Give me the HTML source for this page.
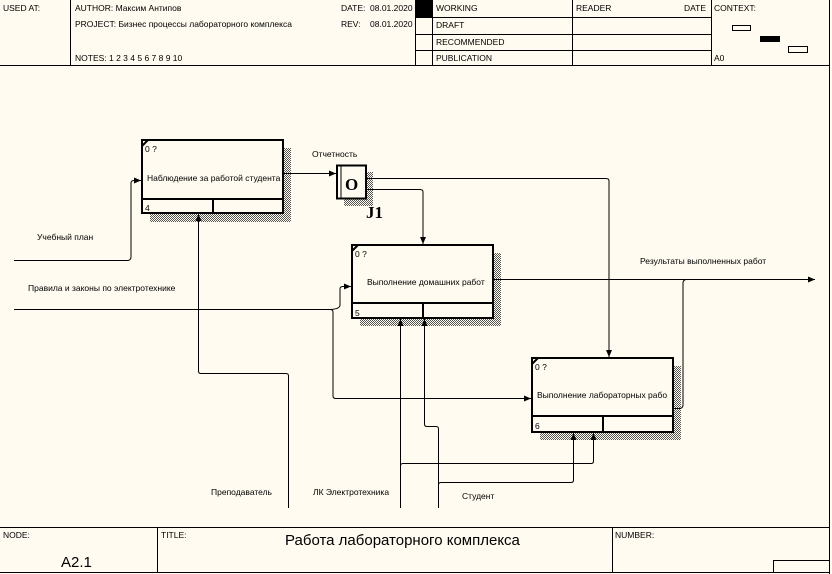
<!DOCTYPE html>
<html><head><meta charset="utf-8"><style>
html,body{margin:0;padding:0;background:#fffbf0;}
svg{display:block;}
text{font-family:"Liberation Sans",sans-serif;font-size:8.5px;fill:#000;}
</style></head><body>
<svg width="832" height="574" viewBox="0 0 832 574" xmlns="http://www.w3.org/2000/svg">
<defs>
<pattern id="h" width="2" height="2" patternUnits="userSpaceOnUse"><rect width="2" height="2" fill="#fffbf0"/><rect width="1" height="1" fill="#555"/><rect x="1" y="1" width="1" height="1" fill="#555"/></pattern>
<marker id="a" markerWidth="8" markerHeight="8" refX="7" refY="4" orient="auto" markerUnits="userSpaceOnUse"><path d="M0,1 L7,4 L0,7 z" fill="#000"/></marker>
</defs>
<rect width="832" height="574" fill="#fffbf0"/>
<g stroke="#000" stroke-width="1" fill="none">
<line x1="0" y1="65.5" x2="830" y2="65.5"/>
<line x1="70.5" y1="0" x2="70.5" y2="65"/>
<line x1="415.5" y1="0" x2="415.5" y2="65"/>
<line x1="432.5" y1="0" x2="432.5" y2="65"/>
<line x1="572.5" y1="0" x2="572.5" y2="65"/>
<line x1="711.5" y1="0" x2="711.5" y2="65"/>
<line x1="829.5" y1="0" x2="829.5" y2="574"/>
<line x1="415" y1="17.5" x2="711" y2="17.5"/>
<line x1="415" y1="34.5" x2="711" y2="34.5"/>
<line x1="415" y1="50.5" x2="711" y2="50.5"/>
<rect x="732.5" y="25.5" width="18" height="5"/>
<rect x="788.5" y="46.5" width="19" height="6"/>
</g>
<rect x="415" y="0" width="17" height="17" fill="#000"/>
<rect x="760" y="36" width="20" height="6" fill="#000"/>
<text x="3" y="11">USED AT:</text>
<text x="75" y="11">AUTHOR:  Максим Антипов</text>
<text x="75" y="27">PROJECT:  Бизнес процессы лабораторного комплекса</text>
<text x="75" y="61">NOTES:  1  2  3  4  5  6  7  8  9  10</text>
<text x="341" y="11">DATE:</text><text x="370" y="11">08.01.2020</text>
<text x="341" y="27">REV:</text><text x="370" y="27">08.01.2020</text>
<text x="436" y="11">WORKING</text>
<text x="436" y="28">DRAFT</text>
<text x="436" y="45">RECOMMENDED</text>
<text x="436" y="61">PUBLICATION</text>
<text x="576" y="11">READER</text>
<text x="684" y="11">DATE</text>
<text x="714" y="11">CONTEXT:</text>
<text x="714" y="61">A0</text>
<g stroke="#000" fill="none">
<line x1="0" y1="527.5" x2="830" y2="527.5"/>
<line x1="0" y1="572.5" x2="830" y2="572.5"/>
<line x1="157.5" y1="527" x2="157.5" y2="573"/>
<line x1="612.5" y1="527" x2="612.5" y2="573"/>
<polyline points="773.5,573 773.5,560.5 830,560.5"/>
</g>
<text x="3" y="538">NODE:</text>
<text x="161" y="538">TITLE:</text>
<text x="615" y="538">NUMBER:</text>
<text x="61" y="567" style="font-size:15px">A2.1</text>
<text x="285" y="545" style="font-size:15px">Работа лабораторного комплекса</text>
<rect x="150" y="148" width="141" height="74" fill="url(#h)"/>
<rect x="360" y="253" width="141" height="73" fill="url(#h)"/>
<rect x="540" y="366" width="141" height="74" fill="url(#h)"/>
<rect x="344" y="172" width="29" height="34" fill="url(#h)"/>
<g stroke="#000" stroke-width="2" fill="#fffbf0">
<rect x="142" y="140" width="141" height="73"/>
<rect x="352" y="245" width="141" height="73"/>
<rect x="532" y="358" width="141" height="74"/>
</g>
<g stroke="#000" stroke-width="2">
<line x1="142" y1="199" x2="283" y2="199"/><line x1="213" y1="199" x2="213" y2="213"/>
<line x1="352" y1="303" x2="493" y2="303"/><line x1="423" y1="303" x2="423" y2="318"/>
<line x1="532" y1="416" x2="673" y2="416"/><line x1="603" y1="416" x2="603" y2="432"/>
<line x1="142" y1="146" x2="148" y2="140"/><line x1="352" y1="251" x2="358" y2="245"/><line x1="532" y1="364" x2="538" y2="358"/>
</g>
<rect x="337" y="165.5" width="29" height="33" fill="#fffbf0" stroke="#000" stroke-width="2"/>
<line x1="341" y1="166" x2="341" y2="198" stroke="#000" stroke-width="1"/>
<text x="345" y="190" style="font-family:'Liberation Serif',serif;font-size:17px;font-weight:bold">O</text>
<text x="366" y="218" style="font-family:'Liberation Serif',serif;font-size:17px;font-weight:bold">J1</text>
<text x="145" y="152">0 ?</text><text x="145" y="211">4</text>
<text x="147" y="181">Наблюдение за работой студента</text>
<text x="355" y="257">0 ?</text><text x="355" y="316">5</text>
<text x="367" y="285">Выполнение домашних работ</text>
<text x="535" y="370">0 ?</text><text x="535" y="429">6</text>
<text x="537" y="398">Выполнение лабораторных рабо</text>
<g stroke="#000" stroke-width="1" fill="none">
<path d="M14,260.5 H128 Q131,260 131,257 V183 Q131,180.5 134,180.5 H141" marker-end="url(#a)"/>
<path d="M283,173.5 H336" marker-end="url(#a)"/>
<path d="M366,178.5 H606 Q609,178.5 609,181 V357" marker-end="url(#a)"/>
<path d="M366,189.5 H420 Q423,189.5 423,192 V244" marker-end="url(#a)"/>
<path d="M493,279.5 H815" marker-end="url(#a)"/>
<path d="M673,408.5 H680 Q683,408 683,405 V283 Q683,280 686,279.5"/>
<path d="M14,309.5 H330 Q333,309.5 333,312 V396 Q333,398.5 336,398.5 H531" marker-end="url(#a)"/>
<path d="M330,309.5 Q340,309 340,305 V289 Q340,286.5 343,286.5 H351" marker-end="url(#a)"/>
<path d="M288.5,508 V376 Q288.5,373.5 286,373.5 H201 Q198.5,373.5 198.5,371 V214" marker-end="url(#a)"/>
<path d="M400.5,508 V319" marker-end="url(#a)"/>
<path d="M400.5,466 Q400.5,463.5 403,463.5 H591 Q593.5,463.5 593.5,461 V433" marker-end="url(#a)"/>
<path d="M438.5,508 V429 Q438.5,426.5 436,426.5 H427 Q424.5,426.5 424.5,424 V319" marker-end="url(#a)"/>
<path d="M438.5,485 Q438.5,482.5 441,482.5 H571 Q573.5,482.5 573.5,480 V433" marker-end="url(#a)"/>
</g>
<text x="312" y="157">Отчетность</text>
<text x="37" y="240">Учебный план</text>
<text x="28" y="291">Правила и законы по электротехнике</text>
<text x="640" y="264">Результаты выполненных работ</text>
<text x="211" y="495">Преподаватель</text>
<text x="313" y="495">ЛК Электротехника</text>
<text x="462" y="499">Студент</text>
</svg>
</body></html>
